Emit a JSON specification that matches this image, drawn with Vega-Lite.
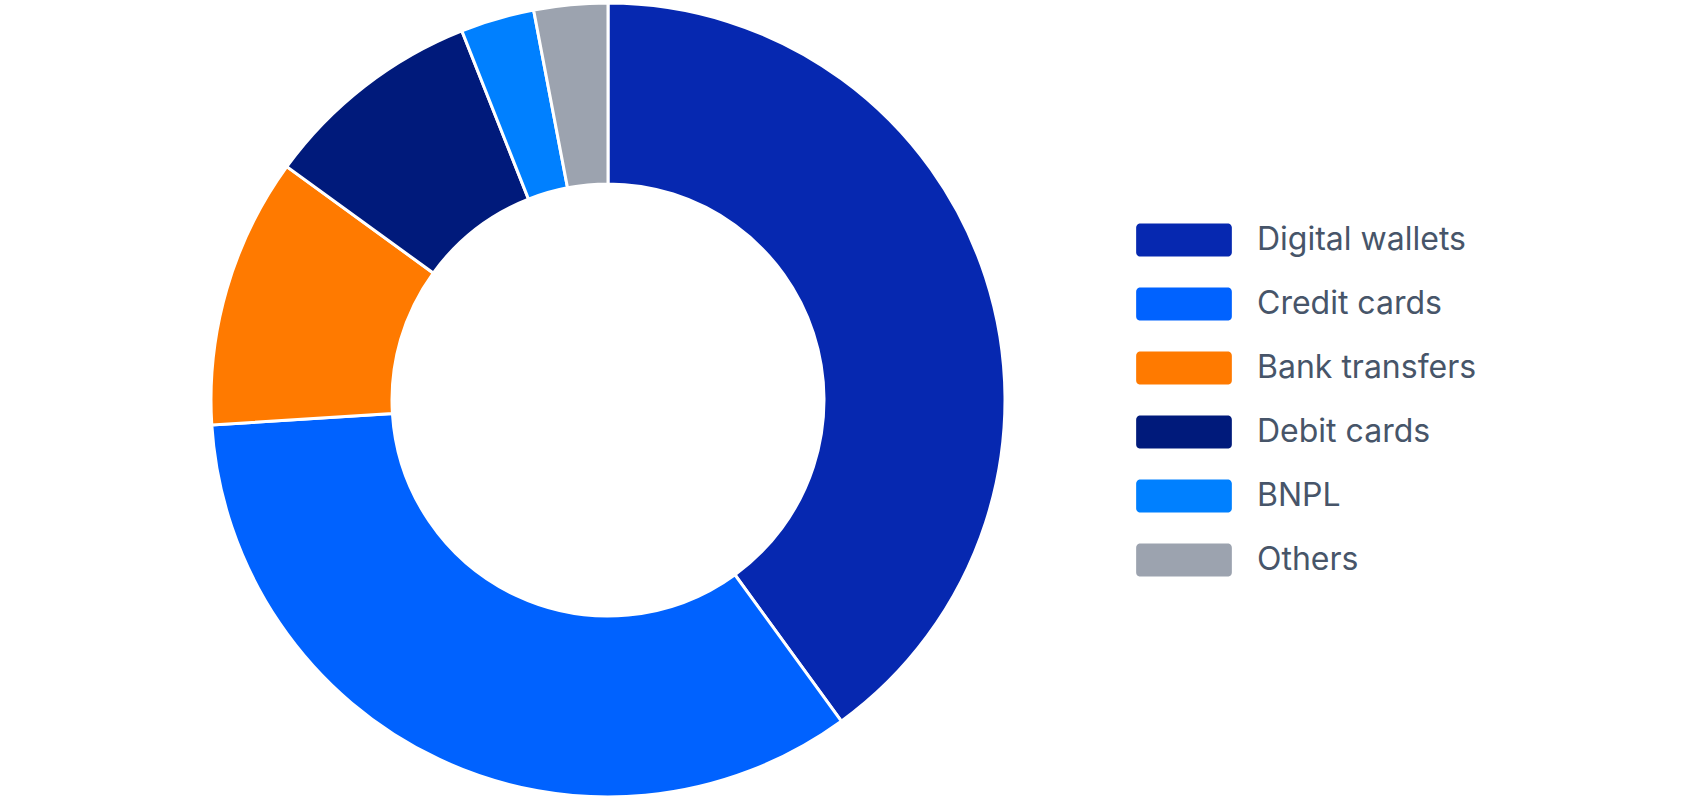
{
  "$schema": "https://vega.github.io/schema/vega-lite/v6.json",
  "width": 1216,
  "height": 800,
  "autosize": {"type": "none"},
  "padding": {"left": 0, "top": 0, "right": 472, "bottom": 0},
  "background": "white",
  "view": {"stroke": null},
  "data": {
    "values": [
      {"method": "Digital wallets", "share": 40, "rank": 1},
      {"method": "Credit cards", "share": 34, "rank": 2},
      {"method": "Bank transfers", "share": 11, "rank": 3},
      {"method": "Debit cards", "share": 9, "rank": 4},
      {"method": "BNPL", "share": 3, "rank": 5},
      {"method": "Others", "share": 3, "rank": 6}
    ]
  },
  "mark": {"type": "arc", "outerRadius": 397, "innerRadius": 216, "stroke": "white", "strokeWidth": 3},
  "encoding": {
    "theta": {"field": "share", "type": "quantitative", "stack": true},
    "order": {"field": "rank", "type": "quantitative"},
    "color": {
      "field": "method",
      "type": "nominal",
      "scale": {
        "domain": ["Digital wallets", "Credit cards", "Bank transfers", "Debit cards", "BNPL", "Others"],
        "range": ["#0628B0", "#0062FF", "#FF7A00", "#001A7B", "#0080FF", "#9CA3AF"]
      },
      "legend": {
        "title": null,
        "orient": "none",
        "legendX": 1167.5,
        "legendY": 223.5,
        "padding": 0,
        "symbolType": "M-2.7,-1 L2.7,-1 A0.25,0.25 0 0 1 2.9,-0.75 L2.9,0.75 A0.25,0.25 0 0 1 2.7,1 L-2.7,1 A0.25,0.25 0 0 1 -2.9,0.75 L-2.9,-0.75 A0.25,0.25 0 0 1 -2.7,-1 Z",
        "symbolSize": 1089,
        "symbolStrokeWidth": 0,
        "symbolOpacity": 1,
        "labelOffset": 56.5,
        "rowPadding": 31,
        "labelFont": "Inter",
        "labelFontSize": 32,
        "labelBaseline": "middle",
        "labelColor": "#475569",
        "labelLimit": 400
      }
    }
  }
}
